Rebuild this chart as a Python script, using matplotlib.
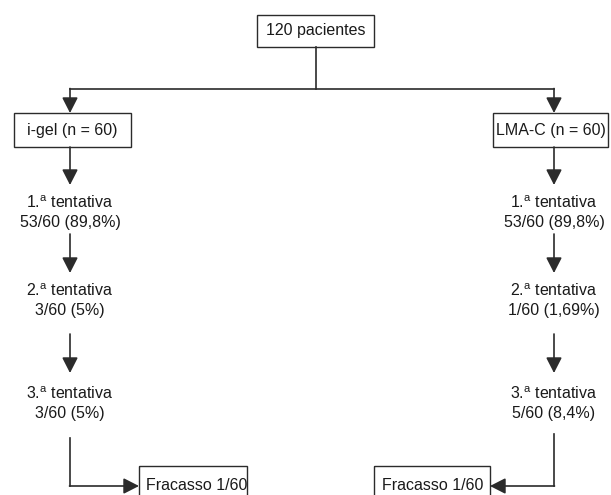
import matplotlib.pyplot as plt
from matplotlib.patches import Rectangle

plt.rcParams['font.family'] = ['Liberation Sans', 'DejaVu Sans']
plt.rcParams['mathtext.fontset'] = 'custom'
plt.rcParams['mathtext.rm'] = 'Liberation Sans'

# flowchart content
total_label = "120 pacientes"
groups = ["i-gel (n = 60)", "LMA-C (n = 60)"]
attempts = ["1.$^{\\rm a}$ tentativa", "2.$^{\\rm a}$ tentativa", "3.$^{\\rm a}$ tentativa"]
igel_results = ["53/60 (89,8%)", "3/60 (5%)", "3/60 (5%)"]
lma_results = ["53/60 (89,8%)", "1/60 (1,69%)", "5/60 (8,4%)"]
failures = ["Fracasso 1/60", "Fracasso 1/60"]

LINE = '#2b2b2b'
TXT = '#1a1a1a'
FS = 11.5


def box(ax, x0, x1, y0, y1, label, tx=None, ty=None):
    ax.add_patch(Rectangle((x0, y0), x1 - x0, y1 - y0, fill=False, ec=LINE, lw=1.0))
    if tx is None:
        tx = (x0 + x1) / 2
    if ty is None:
        ty = (y0 + y1) / 2
    ax.text(tx, ty, label, ha='center', va='center', fontsize=FS, color=TXT)


def arrow(ax, start, end):
    ax.annotate('', xy=end, xytext=start,
                arrowprops=dict(arrowstyle='-|>,head_length=0.47,head_width=0.24',
                                mutation_scale=20, lw=1.2, color=LINE,
                                shrinkA=0, shrinkB=0))


fig = plt.figure(figsize=(6.11, 4.95), dpi=100)
ax = fig.add_axes([0, 0, 1, 1])
ax.set_xlim(0, 611)
ax.set_ylim(495, 0)
ax.axis('off')

# top box and split
box(ax, 257, 374, 15, 47, total_label)
ax.plot([316, 316], [47, 89], color=LINE, lw=1.2)
cols = [70, 554]
ax.plot([cols[0], cols[1]], [89, 89], color=LINE, lw=1.2)
for cx in cols:
    arrow(ax, (cx, 88.5), (cx, 113))

box(ax, 14, 131, 113, 147, groups[0])
box(ax, 493, 608, 113, 147, groups[1])

# attempts
arrow_spans = [(147, 185), (234, 273), (334, 373)]
text_y = [203, 291, 394]
for cx, results in zip(cols, [igel_results, lma_results]):
    for (ya, yb), ty, att, res in zip(arrow_spans, text_y, attempts, results):
        arrow(ax, (cx, ya), (cx, yb))
        ax.text(cx, ty, att, ha='center', va='center', fontsize=FS, color=TXT)
        ax.text(cx, ty + 19.5, res, ha='center', va='center', fontsize=FS, color=TXT)

# failure boxes
ax.plot([cols[0], cols[0]], [438, 486], color=LINE, lw=1.2)
arrow(ax, (cols[0] - 0.5, 486), (139, 486))
box(ax, 139, 247, 466, 504, failures[0], tx=197, ty=485)

ax.plot([cols[1], cols[1]], [434, 486], color=LINE, lw=1.2)
arrow(ax, (cols[1] + 0.5, 486), (490, 486))
box(ax, 374, 490, 466, 504, failures[1], tx=433, ty=485)

fig.savefig('out.png', dpi=100)
